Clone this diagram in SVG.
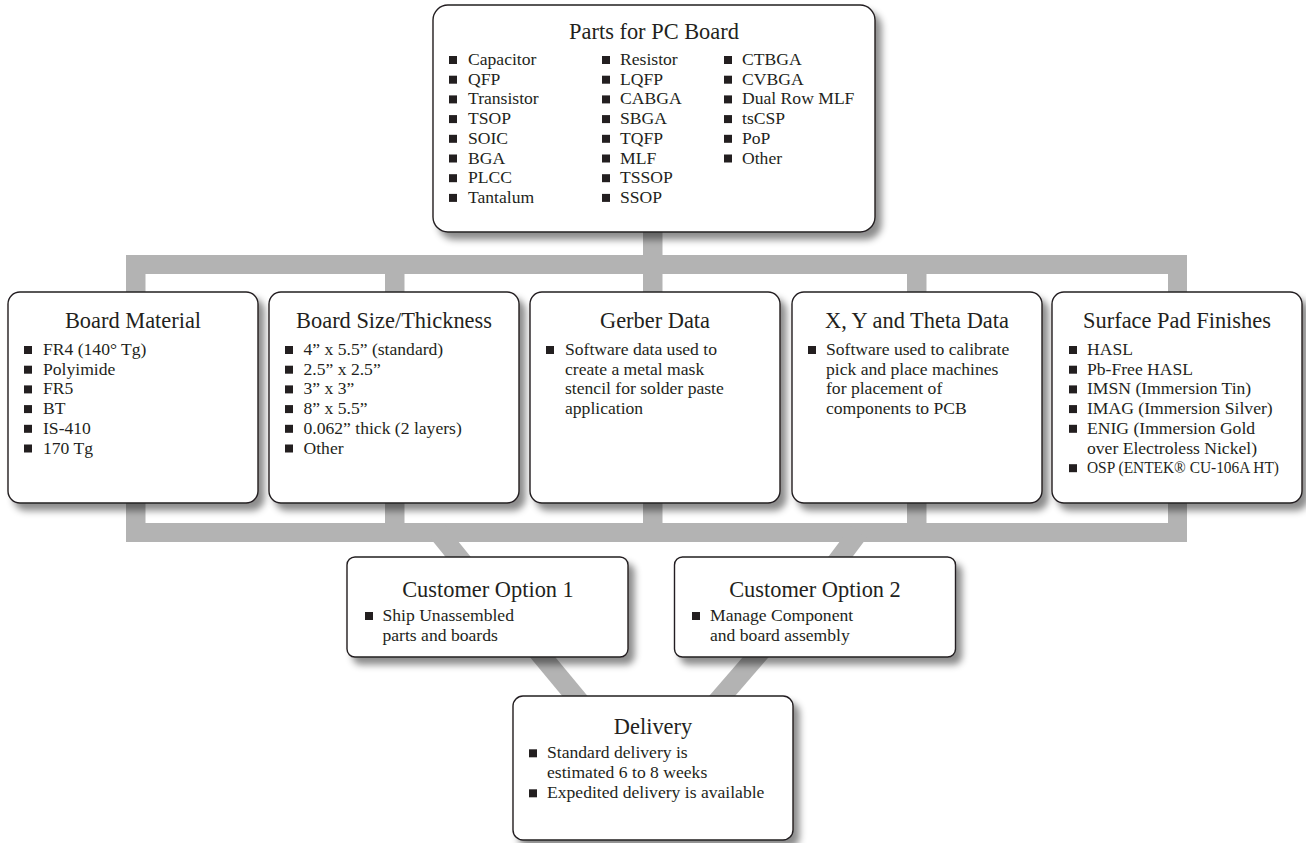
<svg xmlns="http://www.w3.org/2000/svg" width="1306" height="843" viewBox="0 0 1306 843">
<defs>
<filter id="sh" x="-10%" y="-10%" width="125%" height="130%">
<feDropShadow dx="6" dy="7" stdDeviation="3.5" flood-color="#000" flood-opacity="0.45"/>
</filter>
<style>
.box{fill:#fff;stroke:#231f20;stroke-width:1.4;filter:url(#sh)}
.t{font-family:"Liberation Serif","Times New Roman",serif;font-size:22.4px;fill:#231f20;text-anchor:middle}
.i{font-family:"Liberation Serif","Times New Roman",serif;font-size:17.6px;fill:#231f20}
.b{fill:#231f20}
.bar{fill:#b3b3b3}
.dg{stroke:#b3b3b3;stroke-width:19.5;fill:none}
</style>
</defs>
<rect width="1306" height="843" fill="#fff"/>
<g id="connectors">
<rect class="bar" x="126" y="255" width="1061" height="19"/>
<rect class="bar" x="126" y="523" width="1061" height="19"/>
<rect class="bar" x="126" y="255" width="19.5" height="287"/>
<rect class="bar" x="385" y="255" width="19.5" height="287"/>
<rect class="bar" x="643" y="225" width="19.5" height="317"/>
<rect class="bar" x="907" y="255" width="19.5" height="287"/>
<rect class="bar" x="1168" y="255" width="19" height="287"/>
<line class="dg" x1="438" y1="532" x2="493" y2="600"/>
<line class="dg" x1="859" y1="532" x2="808" y2="600"/>
<line class="dg" x1="528.4" y1="640" x2="594.8" y2="720"/>
<line class="dg" x1="770.6" y1="640" x2="701.3" y2="720"/>
</g>
<g id="parts">
<rect class="box" x="433" y="5" width="442" height="227" rx="15"/>
<text class="t" x="654" y="39">Parts for PC Board</text>
<g class="i">
<text x="468" y="65">Capacitor</text><text x="468" y="84.7">QFP</text><text x="468" y="104.4">Transistor</text><text x="468" y="124.1">TSOP</text><text x="468" y="143.8">SOIC</text><text x="468" y="163.5">BGA</text><text x="468" y="183.2">PLCC</text><text x="468" y="202.9">Tantalum</text>
<text x="620" y="65">Resistor</text><text x="620" y="84.7">LQFP</text><text x="620" y="104.4">CABGA</text><text x="620" y="124.1">SBGA</text><text x="620" y="143.8">TQFP</text><text x="620" y="163.5">MLF</text><text x="620" y="183.2">TSSOP</text><text x="620" y="202.9">SSOP</text>
<text x="742" y="65">CTBGA</text><text x="742" y="84.7">CVBGA</text><text x="742" y="104.4">Dual Row MLF</text><text x="742" y="124.1">tsCSP</text><text x="742" y="143.8">PoP</text><text x="742" y="163.5">Other</text>
</g>
<g class="b">
<rect x="449" y="56" width="8" height="8"/><rect x="449" y="75.7" width="8" height="8"/><rect x="449" y="95.4" width="8" height="8"/><rect x="449" y="115.1" width="8" height="8"/><rect x="449" y="134.8" width="8" height="8"/><rect x="449" y="154.5" width="8" height="8"/><rect x="449" y="174.2" width="8" height="8"/><rect x="449" y="193.9" width="8" height="8"/>
<rect x="602" y="56" width="8" height="8"/><rect x="602" y="75.7" width="8" height="8"/><rect x="602" y="95.4" width="8" height="8"/><rect x="602" y="115.1" width="8" height="8"/><rect x="602" y="134.8" width="8" height="8"/><rect x="602" y="154.5" width="8" height="8"/><rect x="602" y="174.2" width="8" height="8"/><rect x="602" y="193.9" width="8" height="8"/>
<rect x="724" y="56" width="8" height="8"/><rect x="724" y="75.7" width="8" height="8"/><rect x="724" y="95.4" width="8" height="8"/><rect x="724" y="115.1" width="8" height="8"/><rect x="724" y="134.8" width="8" height="8"/><rect x="724" y="154.5" width="8" height="8"/>
</g>
</g>
<g id="board-material">
<rect class="box" x="8" y="292" width="250" height="211" rx="12"/>
<text class="t" x="133" y="328">Board Material</text>
<g class="i">
<text x="43" y="355">FR4 (140° Tg)</text><text x="43" y="374.7">Polyimide</text><text x="43" y="394.4">FR5</text><text x="43" y="414.1">BT</text><text x="43" y="433.8">IS-410</text><text x="43" y="453.5">170 Tg</text>
</g>
<g class="b">
<rect x="24" y="346" width="8" height="8"/><rect x="24" y="365.7" width="8" height="8"/><rect x="24" y="385.4" width="8" height="8"/><rect x="24" y="405.1" width="8" height="8"/><rect x="24" y="424.8" width="8" height="8"/><rect x="24" y="444.5" width="8" height="8"/>
</g>
</g>
<g id="board-size">
<rect class="box" x="269" y="292" width="250" height="211" rx="12"/>
<text class="t" x="394" y="328">Board Size/Thickness</text>
<g class="i">
<text x="303.5" y="355">4” x 5.5” (standard)</text><text x="303.5" y="374.7">2.5” x 2.5”</text><text x="303.5" y="394.4">3” x 3”</text><text x="303.5" y="414.1">8” x 5.5”</text><text x="303.5" y="433.8">0.062” thick (2 layers)</text><text x="303.5" y="453.5">Other</text>
</g>
<g class="b">
<rect x="285" y="346" width="8" height="8"/><rect x="285" y="365.7" width="8" height="8"/><rect x="285" y="385.4" width="8" height="8"/><rect x="285" y="405.1" width="8" height="8"/><rect x="285" y="424.8" width="8" height="8"/><rect x="285" y="444.5" width="8" height="8"/>
</g>
</g>
<g id="gerber">
<rect class="box" x="530" y="292" width="250" height="211" rx="12"/>
<text class="t" x="655" y="328">Gerber Data</text>
<g class="i">
<text x="565" y="355">Software data used to</text><text x="565" y="374.7">create a metal mask</text><text x="565" y="394.4">stencil for solder paste</text><text x="565" y="414.1">application</text>
</g>
<rect class="b" x="546" y="346" width="8" height="8"/>
</g>
<g id="xy-theta">
<rect class="box" x="792" y="292" width="250" height="211" rx="12"/>
<text class="t" x="917" y="328">X, Y and Theta Data</text>
<g class="i">
<text x="826" y="355">Software used to calibrate</text><text x="826" y="374.7">pick and place machines</text><text x="826" y="394.4">for placement of</text><text x="826" y="414.1">components to PCB</text>
</g>
<rect class="b" x="808" y="346" width="8" height="8"/>
</g>
<g id="surface">
<rect class="box" x="1052" y="292" width="250" height="211" rx="12"/>
<text class="t" x="1177" y="328">Surface Pad Finishes</text>
<g class="i">
<text x="1087" y="355">HASL</text><text x="1087" y="374.7">Pb-Free HASL</text><text x="1087" y="394.4">IMSN (Immersion Tin)</text><text x="1087" y="414.1">IMAG (Immersion Silver)</text><text x="1087" y="433.8">ENIG (Immersion Gold</text><text x="1087" y="453.5">over Electroless Nickel)</text><text x="1087" y="473.2" textLength="192" lengthAdjust="spacingAndGlyphs">OSP (ENTEK® CU-106A HT)</text>
</g>
<g class="b">
<rect x="1069" y="346" width="8" height="8"/><rect x="1069" y="365.7" width="8" height="8"/><rect x="1069" y="385.4" width="8" height="8"/><rect x="1069" y="405.1" width="8" height="8"/><rect x="1069" y="424.8" width="8" height="8"/><rect x="1069" y="464.2" width="8" height="8"/>
</g>
</g>
<g id="option1">
<rect class="box" x="347" y="557" width="281" height="100" rx="8"/>
<text class="t" x="488" y="597">Customer Option 1</text>
<g class="i"><text x="382.5" y="621">Ship Unassembled</text><text x="382.5" y="640.5">parts and boards</text></g>
<rect class="b" x="365" y="612" width="8" height="8"/>
</g>
<g id="option2">
<rect class="box" x="674.5" y="557" width="281" height="100" rx="8"/>
<text class="t" x="815" y="597">Customer Option 2</text>
<g class="i"><text x="710" y="621">Manage Component</text><text x="710" y="640.5">and board assembly</text></g>
<rect class="b" x="692" y="612" width="8" height="8"/>
</g>
<g id="delivery">
<rect class="box" x="513" y="696" width="280" height="144" rx="10"/>
<text class="t" x="653" y="734">Delivery</text>
<g class="i"><text x="547" y="758.3">Standard delivery is</text><text x="547" y="778.3">estimated 6 to 8 weeks</text><text x="547" y="798.3">Expedited delivery is available</text></g>
<rect class="b" x="529" y="749.3" width="8" height="8"/><rect class="b" x="529" y="789.3" width="8" height="8"/>
</g>
</svg>
